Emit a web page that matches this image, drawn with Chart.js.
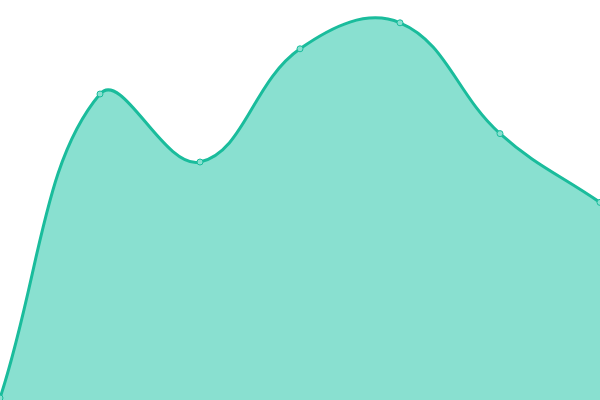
<!DOCTYPE html>
<html>
<head>
<meta charset="utf-8">
<script src="https://cdn.jsdelivr.net/npm/chart.js@4"></script>
<style>
  html, body { margin: 0; padding: 0; background: #fff; }
  #wrap { width: 600px; height: 400px; }
</style>
</head>
<body>
<div id="wrap"><canvas id="areaChart"></canvas></div>
<script>
// Data
var labels = ['A', 'B', 'C', 'D', 'E', 'F', 'G'];
var values = [0.5, 76.5, 59.5, 87.8, 94.3, 66.6, 49.4];

// Chart
var ctx = document.getElementById('areaChart').getContext('2d');
new Chart(ctx, {
    type: 'line',
    data: {
        labels: labels,
        datasets: [{
            data: values,
            fill: true,
            tension: 0.4,
            borderColor: '#1abc9c',
            borderWidth: 3,
            backgroundColor: '#89e0d0',
            pointRadius: 3,
            pointBorderWidth: 1,
            pointBackgroundColor: '#89e0d0',
            pointBorderColor: '#1abc9c'
        }]
    },
    options: {
        responsive: true,
        maintainAspectRatio: false,
        animation: false,
        layout: { padding: 0, autoPadding: false },
        plugins: {
            legend: { display: false },
            tooltip: { enabled: false }
        },
        scales: {
            x: { display: false, offset: false },
            y: { display: false, min: 0, max: 100 }
        }
    }
});
</script>
</body>
</html>
